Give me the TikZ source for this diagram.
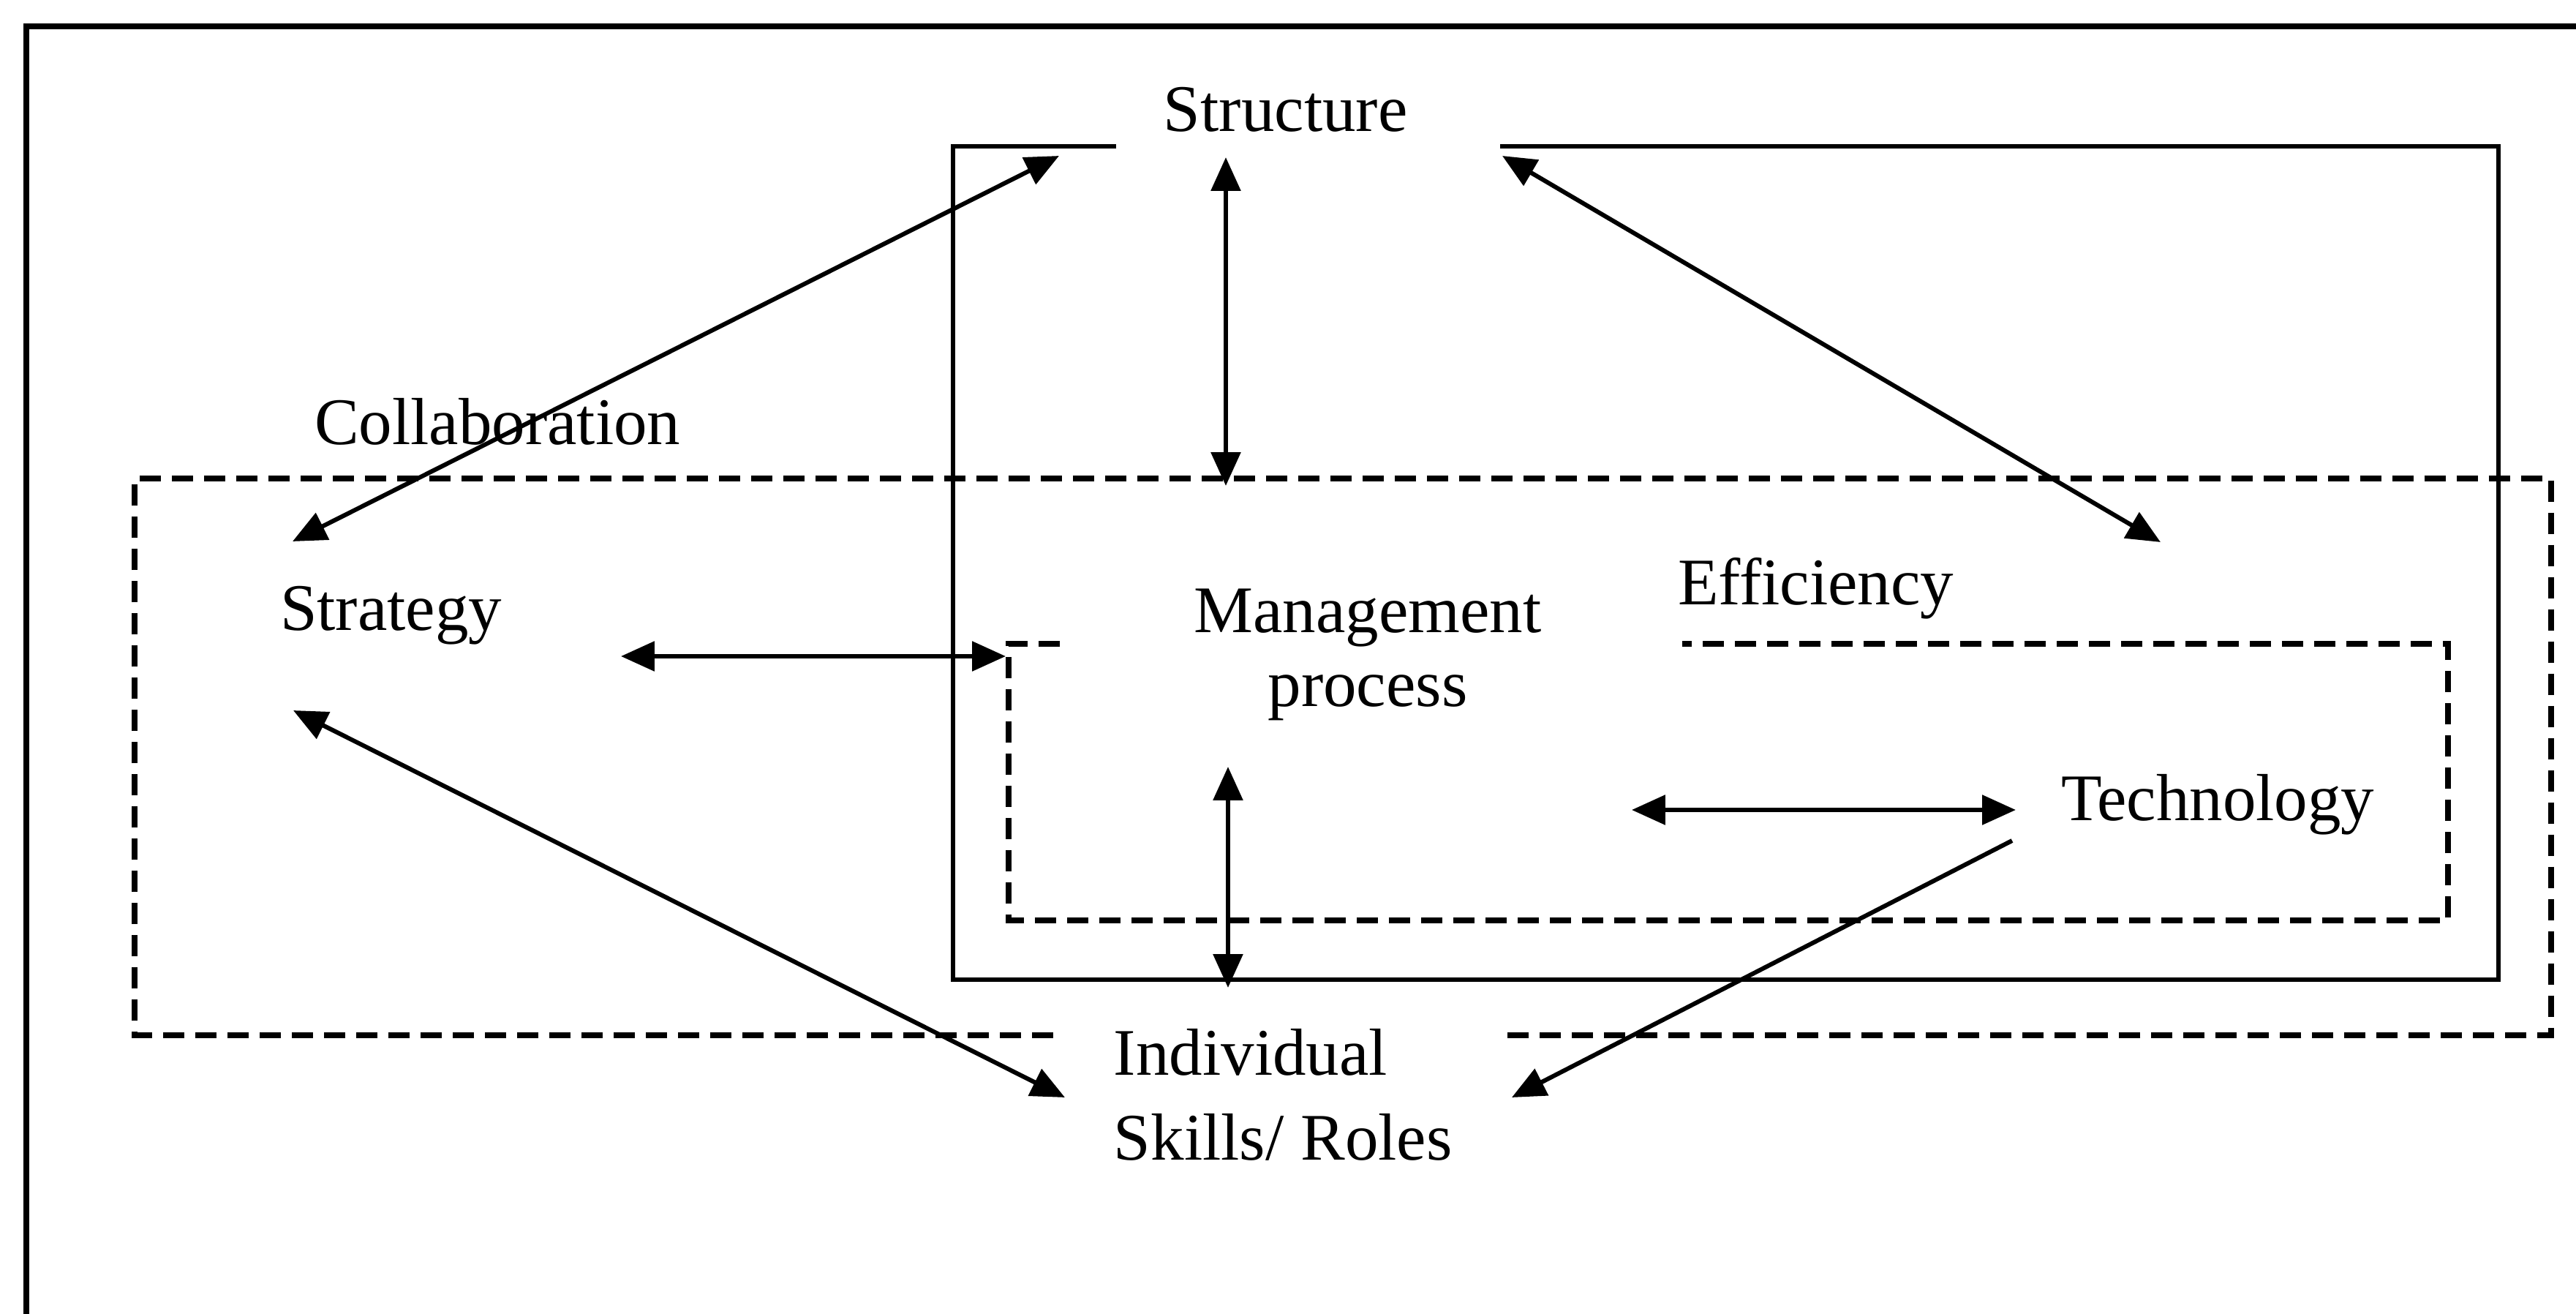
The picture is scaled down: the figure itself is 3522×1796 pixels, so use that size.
\documentclass[tikz,border=0pt]{standalone}
\usepackage{fontspec}
\setmainfont{Liberation Serif}
\usetikzlibrary{arrows.meta}
\begin{document}
\begin{tikzpicture}[x=0.1pt,y=-0.1pt,
  >={Triangle[length=4.6pt,width=4pt]},
  lbl/.style={inner sep=0pt,anchor=base west,font=\fontsize{9.1pt}{10.2pt}\selectfont},
  frameline/.style={line width=0.9pt},
  solidbox/.style={line width=0.6pt},
  dashbox/.style={line width=0.75pt,dash pattern=on 2.9pt off 1.5pt},
  conn/.style={line width=0.6pt}]
\useasboundingbox (0,0) rectangle (3522,1796);

% outer frame (cropped)
\draw[frameline] (36,1796) -- (36,36) -- (3522,36);

% solid box
\draw[solidbox] (1526,200) -- (1303,200) -- (1303,1339) -- (3416,1339) -- (3416,200) -- (2051,200);

% large dashed box
\draw[dashbox] (1440,1415) -- (184,1415) -- (184,654) -- (3488,654) -- (3488,1415) -- (2060,1415);

% inner dashed box
\draw[dashbox] (1449,880) -- (1379,880) -- (1379,1258) -- (3347,1258) -- (3347,880) -- (2300,880);

% labels
\node[lbl] (structure) at (1589,180) {Structure};
\node[lbl] (collab) at (428,607) {Collaboration};
\node[lbl] (strategy) at (381,862) {Strategy};
\node[lbl,anchor=base,align=center] (mgmt) at (1870,966) {Management\\process};
\node[lbl] (eff) at (2292,827) {Efficiency};
\node[lbl] (tech) at (2816,1122) {Technology};
\node[lbl,align=left] (indiv) at (1521,1585) {Individual\\[1.4pt]Skills/ Roles};

% connector ends
\coordinate (stratUp) at (400,740);
\coordinate (structL) at (1448,213);
\coordinate (structC) at (1676,215);
\coordinate (bigTop) at (1676,664);
\coordinate (structR) at (2054,213);
\coordinate (effUp) at (2954,741);
\coordinate (stratR) at (849,897);
\coordinate (mgmtL) at (1375,897);
\coordinate (stratDn) at (401,971);
\coordinate (indivL) at (1456,1500);
\coordinate (mgmtDn) at (1679,1048);
\coordinate (boxBot) at (1679,1350);
\coordinate (mgmtR) at (2231,1107);
\coordinate (techL) at (2756,1107);
\coordinate (techDn) at (2751,1149);
\coordinate (indivR) at (2067,1500);

% connectors
\draw[conn,<->] (stratUp) -- (structL);
\draw[conn,<->] (structC) -- (bigTop);
\draw[conn,<->] (structR) -- (effUp);
\draw[conn,<->] (stratR) -- (mgmtL);
\draw[conn,<->] (stratDn) -- (indivL);
\draw[conn,<->] (mgmtDn) -- (boxBot);
\draw[conn,<->] (mgmtR) -- (techL);
\draw[conn,->] (techDn) -- (indivR);
\end{tikzpicture}
\end{document}
